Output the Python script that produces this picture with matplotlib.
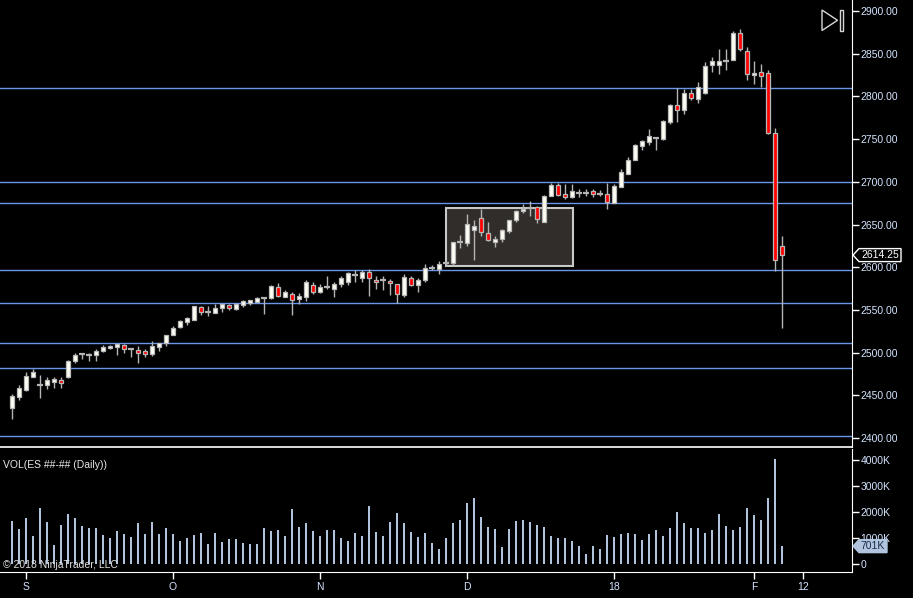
import numpy as np
import matplotlib.pyplot as plt
from matplotlib.patches import Rectangle, Polygon
import matplotlib.transforms as mtrans

plt.rcParams['font.family'] = ['Liberation Sans', 'DejaVu Sans']

# daily ES bars, late Aug 2017 .. 6 Feb 2018
opens = [2435.25, 2448.25, 2456.5, 2471.5, 2462.0, 2462.25, 2465.75, 2468.5, 2471.5, 2490.25,
         2499.0, 2497.75, 2497.25, 2502.0, 2506.0, 2506.75, 2508.75, 2504.5, 2502.75, 2501.5,
         2498.5, 2506.75, 2511.5, 2520.75, 2529.75, 2535.5, 2538.25, 2553.25, 2547.25, 2546.5,
         2552.5, 2556.25, 2550.75, 2556.0, 2558.25, 2559.5, 2564.0, 2564.0, 2576.5, 2565.25,
         2568.5, 2563.0, 2565.25, 2579.75, 2571.0, 2577.25, 2574.75, 2580.5, 2583.0, 2590.75,
         2587.5, 2595.0, 2585.5, 2585.25, 2584.5, 2581.0, 2567.5, 2588.0, 2579.75, 2585.25,
         2599.25, 2597.75, 2605.0, 2605.0, 2629.25, 2628.5, 2643.25, 2658.25, 2639.75, 2629.25,
         2633.25, 2642.5, 2655.0, 2666.0, 2669.5, 2670.0, 2653.0, 2683.5, 2696.0, 2685.5,
         2682.5, 2687.5, 2687.5, 2689.0, 2686.0, 2685.25, 2675.25, 2694.0, 2709.75, 2725.25,
         2742.0, 2746.75, 2751.75, 2750.5, 2769.5, 2790.5, 2783.75, 2803.75, 2797.5, 2804.5,
         2836.5, 2837.25, 2841.5, 2843.0, 2874.75, 2853.25, 2825.25, 2828.75, 2828.0, 2757.25,
         2625.0]
highs = [2451.25, 2461.75, 2477.0, 2481.25, 2473.5, 2471.25, 2471.25, 2471.25, 2491.0, 2499.25,
         2499.0, 2500.0, 2504.0, 2509.5, 2509.5, 2510.5, 2510.25, 2504.5, 2508.25, 2504.5,
         2513.5, 2511.75, 2521.25, 2531.75, 2538.0, 2541.5, 2554.25, 2554.25, 2554.25, 2557.5,
         2557.5, 2557.5, 2558.5, 2561.5, 2562.0, 2565.5, 2565.25, 2579.0, 2581.25, 2573.75,
         2570.75, 2570.0, 2584.75, 2582.5, 2580.0, 2589.5, 2582.5, 2589.5, 2594.5, 2597.25,
         2597.25, 2598.5, 2589.5, 2589.5, 2586.75, 2581.0, 2592.5, 2589.5, 2588.0, 2604.25,
         2602.75, 2607.5, 2607.5, 2630.0, 2638.25, 2662.0, 2655.0, 2668.75, 2653.0, 2637.0,
         2645.0, 2655.0, 2667.5, 2674.5, 2677.25, 2671.75, 2684.25, 2698.75, 2698.75, 2697.25,
         2697.25, 2692.0, 2691.75, 2692.0, 2690.25, 2699.0, 2698.0, 2715.5, 2729.25, 2744.75,
         2749.5, 2761.5, 2752.5, 2772.0, 2791.5, 2810.0, 2809.25, 2809.25, 2817.0, 2840.5,
         2846.25, 2856.0, 2855.0, 2876.75, 2879.5, 2858.0, 2841.25, 2838.5, 2831.5, 2763.5,
         2636.25]
lows = [2422.5, 2444.75, 2455.0, 2471.0, 2447.0, 2457.5, 2458.75, 2458.75, 2470.5, 2488.0,
        2492.75, 2490.25, 2490.25, 2500.75, 2504.5, 2497.25, 2499.75, 2495.0, 2488.0, 2495.0,
        2496.25, 2502.0, 2508.0, 2520.5, 2528.5, 2532.0, 2538.0, 2543.75, 2543.0, 2546.5,
        2547.25, 2549.5, 2549.5, 2553.25, 2556.0, 2559.5, 2545.0, 2563.0, 2565.25, 2565.25,
        2544.5, 2557.5, 2560.5, 2569.25, 2570.0, 2575.0, 2565.25, 2577.0, 2579.0, 2583.0,
        2583.0, 2566.5, 2574.75, 2573.0, 2567.25, 2558.25, 2565.25, 2578.25, 2571.0, 2583.0,
        2596.5, 2592.5, 2601.5, 2601.5, 2622.75, 2625.0, 2608.25, 2636.25, 2631.0, 2623.75,
        2629.25, 2640.25, 2653.0, 2663.5, 2660.0, 2652.0, 2653.0, 2683.5, 2683.25, 2680.0,
        2681.25, 2682.5, 2683.25, 2682.5, 2683.25, 2668.0, 2675.25, 2694.0, 2709.0, 2725.25,
        2737.0, 2742.75, 2737.75, 2748.75, 2768.25, 2770.25, 2780.0, 2795.5, 2792.75, 2803.25,
        2828.75, 2826.75, 2831.5, 2842.5, 2853.0, 2819.75, 2814.0, 2811.0, 2756.5, 2595.75,
        2529.25]
closes = [2449.0, 2458.25, 2472.5, 2477.0, 2462.0, 2467.75, 2469.0, 2465.0, 2490.0, 2497.75,
          2499.0, 2497.75, 2501.5, 2506.25, 2508.25, 2509.75, 2504.75, 2504.5, 2500.0, 2499.0,
          2508.25, 2511.75, 2520.5, 2529.25, 2536.75, 2540.25, 2554.25, 2547.25, 2547.25, 2552.0,
          2556.75, 2552.5, 2556.75, 2560.25, 2561.5, 2564.0, 2564.0, 2577.75, 2566.5, 2570.75,
          2561.75, 2566.0, 2582.5, 2571.0, 2576.5, 2577.25, 2581.0, 2587.0, 2593.0, 2590.75,
          2595.0, 2587.5, 2583.25, 2585.25, 2582.0, 2569.25, 2588.75, 2579.75, 2585.5, 2599.5,
          2599.25, 2604.25, 2605.0, 2630.0, 2629.25, 2651.25, 2648.0, 2641.5, 2631.5, 2632.75,
          2643.25, 2655.0, 2665.5, 2668.25, 2669.5, 2657.0, 2683.25, 2696.0, 2684.25, 2682.5,
          2689.0, 2687.5, 2687.5, 2686.0, 2686.0, 2676.5, 2695.25, 2711.5, 2725.25, 2743.5,
          2747.5, 2753.5, 2751.75, 2771.0, 2789.75, 2783.75, 2804.5, 2798.25, 2811.0, 2835.75,
          2841.25, 2841.5, 2841.5, 2874.75, 2855.0, 2826.0, 2827.5, 2823.5, 2757.25, 2609.0,
          2614.25]
# volume in thousands of contracts
volume = [1651, 1346, 1765, 1092, 2146, 1613, 749, 1498, 1917, 1765,
          1460, 1384, 1384, 1117, 1003, 1270, 1156, 1041, 1575, 1156,
          1613, 1156, 1384, 1156, 889, 1003, 1117, 1194, 775, 1194,
          851, 965, 965, 813, 775, 775, 1384, 1270, 1308, 1079,
          2108, 1422, 1575, 1270, 1079, 1308, 1308, 1003, 889, 1194,
          1079, 2260, 1232, 1079, 1613, 1956, 1575, 1232, 1041, 1194,
          813, 584, 1003, 1575, 1689, 2375, 2565, 1803, 1422, 1346,
          660, 1346, 1651, 1689, 1613, 1498, 1422, 1079, 1003, 1003,
          889, 698, 394, 698, 584, 1117, 1041, 1156, 1194, 1156,
          927, 1156, 1308, 1079, 1384, 1994, 1575, 1384, 1384, 1194,
          1308, 1917, 1460, 1308, 1422, 2146, 1879, 1689, 2565, 4051,
          701]

# horizontal levels drawn on the chart
levels = [2810, 2700, 2675, 2597, 2558, 2511, 2482, 2402]
# consolidation box (bar index from/to, price low/high)
box_x = [62.0, 80.1]
box_y = [2601.5, 2669.4]

date_pos = [2, 23, 44, 65, 86, 106, 113]
date_labels = ['S', 'O', 'N', 'D', '18', 'F', '12']
price_ticks = [2400, 2450, 2500, 2550, 2600, 2650, 2700, 2750, 2800, 2850, 2900]
vol_ticks = [0, 1000, 2000, 3000, 4000]

W, H = 913, 598
txtcol = '#d4e4ff'
fig = plt.figure(figsize=(W / 100, H / 100), dpi=100, facecolor='black')
ax = fig.add_axes([0, 151 / H, 852 / W, 447 / H], facecolor='black')
axv = fig.add_axes([0, 26 / H, 852 / W, 123 / H], facecolor='black', sharex=ax)

o = np.array(opens)
hi = np.array(highs)
lo = np.array(lows)
c = np.array(closes)
x = np.arange(len(c))

for lv in levels:
    ax.axhline(lv, color='#6b96e8', lw=1, zorder=1)

ax.add_patch(Rectangle((box_x[0], box_y[0]), box_x[1] - box_x[0], box_y[1] - box_y[0],
                       facecolor='#312d2a', edgecolor='#c8c8c8', lw=1.5, zorder=2))

ax.vlines(x, lo, hi, color='#b4b4b4', lw=1, zorder=3)
up = c > o
dn = c < o
flat = c == o
ax.bar(x[up], (c - o)[up], bottom=o[up], width=0.6, color='#fffff4',
       edgecolor='#b8b8b8', lw=0.9, zorder=4)
ax.bar(x[dn], (o - c)[dn], bottom=c[dn], width=0.6, color='#ff0000',
       edgecolor='#b8b8b8', lw=0.9, zorder=4)
ax.hlines(c[flat], x[flat] - 0.38, x[flat] + 0.38, color='#b4b4b4', lw=1.6, zorder=4)

ax.set_xlim(-12 / 7, 840 / 7)
ax.set_ylim(2389.6, 2912.9)
ax.yaxis.tick_right()
ax.set_yticks(price_ticks)
ax.set_yticklabels(['%.2f' % p for p in price_ticks])
ax.tick_params(axis='y', colors='white', labelcolor=txtcol, length=5, width=1,
               labelsize=7.5, pad=1)
ax.tick_params(axis='x', bottom=False, labelbottom=False)

axv.bar(x, volume, width=0.3, color='#b0c4de', zorder=2)
axv.set_ylim(-293, 4430)
axv.yaxis.tick_right()
axv.set_yticks(vol_ticks)
axv.set_yticklabels(['0' if v == 0 else '%dK' % v for v in vol_ticks])
axv.tick_params(axis='y', colors='white', labelcolor=txtcol, length=5, width=1,
                labelsize=7.5, pad=1)
axv.set_xticks(date_pos)
axv.set_xticklabels(date_labels)
axv.tick_params(axis='x', colors='white', labelcolor=txtcol, length=5, width=1,
                labelsize=7.5, pad=2)

for a in (ax, axv):
    a.spines['left'].set_visible(False)
    a.spines['top'].set_visible(False)
    a.spines['right'].set_color('white')
    a.spines['bottom'].set_color('white')
ax.spines['bottom'].set_linewidth(1.2)

fig.text(3 / W, 1 - 465 / H, 'VOL(ES ##-## (Daily))', color='#e8e8e8', fontsize=7.5, va='center')
fig.text(3 / W, 1 - 565 / H, '\u00a9 2018 NinjaTrader, LLC', color='#e0e0e0', fontsize=7.5,
         va='center')

# last value markers on the axes
ident = mtrans.IdentityTransform()


def value_tag(axis, val, text, face, edge, tcol, right):
    yd = axis.transData.transform((0, val))[1]
    hh = 6.5
    verts = [(853, yd), (859, yd + hh), (right, yd + hh), (right, yd - hh), (859, yd - hh)]
    fig.add_artist(Polygon(verts, closed=True, facecolor=face, edgecolor=edge, lw=1,
                           transform=ident, zorder=10))
    fig.text((859 + right) / 2, yd, text, color=tcol, fontsize=7.5, ha='center', va='center',
             transform=ident, zorder=11)


value_tag(ax, closes[-1], '%.2f' % closes[-1], 'black', 'white', 'white', 901)
value_tag(axv, volume[-1], '%dK' % volume[-1], '#b0c4de', '#b0c4de', '#1c2a48', 887)

# play/end icon top right
fig.add_artist(Polygon([(822, H - 10), (822, H - 30.5), (837.5, H - 20.3)], closed=True,
                       fill=False, edgecolor='#d8d8d8', lw=1, transform=ident))
fig.add_artist(Rectangle((839.5, H - 30.5), 3.2, 20.5, fill=False, edgecolor='#d8d8d8',
                         lw=1, transform=ident))

fig.savefig('out.png', dpi=100, facecolor='black')
